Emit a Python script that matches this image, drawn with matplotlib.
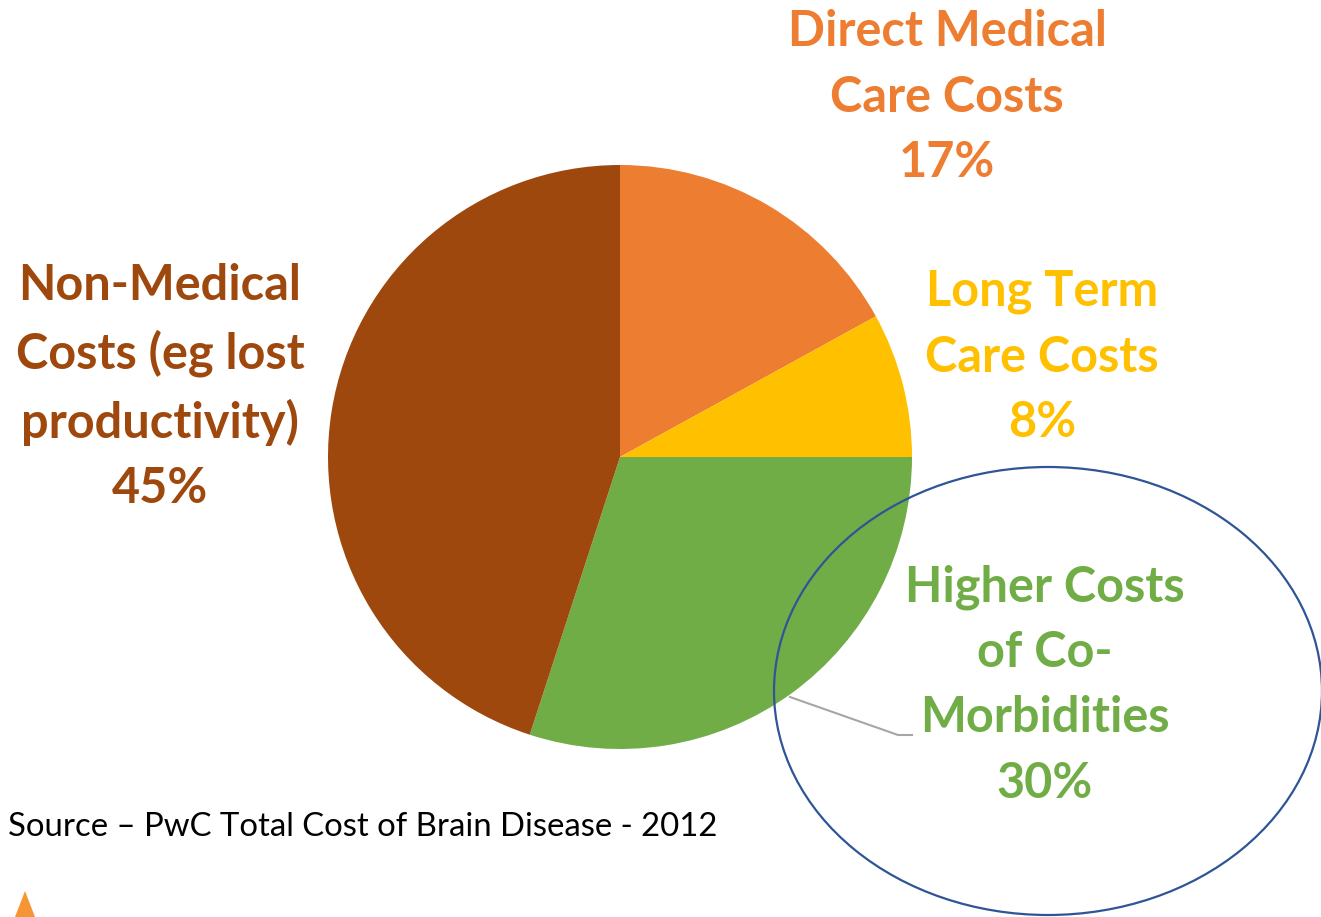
import matplotlib
matplotlib.use("Agg")
import matplotlib.pyplot as plt
from matplotlib.patches import Ellipse, Polygon

labels = ["Direct Medical\nCare Costs", "Long Term\nCare Costs", "Higher Costs\nof Co-\nMorbidities", "Non-Medical\nCosts (eg lost\nproductivity)"]
values = [17, 8, 30, 45]
colors = ["#ED7D31", "#FFC000", "#70AD47", "#9E480E"]
label_pos = [(947, 97), (1042, 357), (1045, 685), (160, 387)]
source = "Source \u2013 PwC Total Cost of Brain Disease - 2012"

W, H = 1321, 917
fig = plt.figure(figsize=(W / 100, H / 100), dpi=100)
ax = fig.add_axes([0, 0, 1, 1])
ax.set_xlim(0, W)
ax.set_ylim(0, H)
ax.set_aspect("equal")
ax.axis("off")

def Y(y):
    return H - y

ax.pie(values, colors=colors, startangle=90, counterclock=False,
       center=(620, Y(457)), radius=292, frame=True,
       wedgeprops=dict(linewidth=0))
ax.set_xlim(0, W)
ax.set_ylim(0, H)
ax.axis("off")

# leader line
ax.plot([790, 898, 912], [Y(697), Y(735), Y(735)], color="#A6A6A6", lw=1.5, zorder=3)

fontfam = ["Lato", "DejaVu Sans"]
for lab, v, c, (x, y) in zip(labels, values, colors, label_pos):
    ax.text(x, Y(y), f"{lab}\n{v}%", color=c, ha="center", va="center",
            fontsize=35, fontweight="bold", family=fontfam, linespacing=1.55, zorder=4)

ax.add_patch(Ellipse((1048, Y(691)), 548, 448, fill=False, edgecolor="#2F5597", lw=1.6, zorder=5))

ax.text(8, Y(827), source, ha="left", va="center", fontsize=23.7, color="black", family=fontfam)

ax.add_patch(Polygon([(15, Y(917)), (25, Y(891)), (35, Y(917))], closed=True,
                     facecolor="#F79433", edgecolor="none"))

fig.savefig("out.png", dpi=100)
